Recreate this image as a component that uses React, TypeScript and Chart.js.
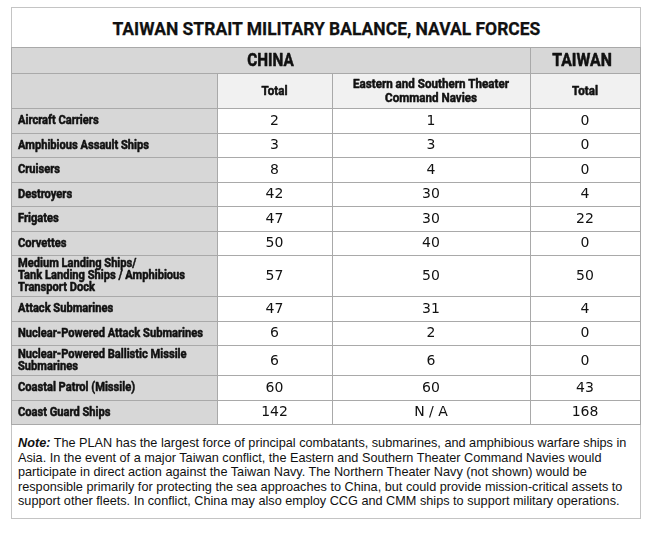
import React, { useEffect, useRef } from 'react';
import { Chart, registerables } from 'chart.js';

Chart.register(...registerables);

const title = 'TAIWAN STRAIT MILITARY BALANCE, NAVAL FORCES';
const groupHeaders = ['CHINA', 'TAIWAN'];
const columnHeaders = ['Total', 'Eastern and Southern Theater\nCommand Navies', 'Total'];
const categories = [
  'Aircraft Carriers',
  'Amphibious Assault Ships',
  'Cruisers',
  'Destroyers',
  'Frigates',
  'Corvettes',
  'Medium Landing Ships/\nTank Landing Ships / Amphibious\nTransport Dock',
  'Attack Submarines',
  'Nuclear-Powered Attack Submarines',
  'Nuclear-Powered Ballistic Missile\nSubmarines',
  'Coastal Patrol (Missile)',
  'Coast Guard Ships',
];
const chinaTotal = [2, 3, 8, 42, 47, 50, 57, 47, 6, 6, 60, 142];
const chinaEastSouth: (number | null)[] = [1, 3, 4, 30, 30, 40, 50, 31, 2, 6, 60, null];
const taiwanTotal = [0, 0, 0, 4, 22, 0, 50, 4, 0, 0, 43, 168];
const notLabel = 'N / A';
const noteLabel = 'Note:';
const noteLines = [
  ' The PLAN has the largest force of principal combatants, submarines, and amphibious warfare ships in',
  'Asia. In the event of a major Taiwan conflict, the Eastern and Southern Theater Command Navies would',
  'participate in direct action against the Taiwan Navy. The Northern Theater Navy (not shown) would be',
  'responsible primarily for protecting the sea approaches to China, but could provide mission-critical assets to',
  'support other fleets. In conflict, China may also employ CCG and CMM ships to support military operations.',
];

// ---- layout (not data) ----
const W = 630;
const colEdges = [0, 206, 321, 519, 629];
const HEAD1 = 26;
const HEAD2 = 35;
const rowHeightByLines: Record<number, number> = { 1: 24.5, 2: 30, 3: 41 };

const GRAY = '#d7d7d7';
const LIGHT = '#f1f1f1';
const LINE = '#a9a9a9';
const TEXT = '#111111';

function rowEdgesCalc() {
  const edges = [0, HEAD1, HEAD1 + HEAD2];
  let y = HEAD1 + HEAD2;
  categories.forEach((c) => {
    y += rowHeightByLines[c.split('\n').length];
    edges.push(y);
  });
  return edges;
}
const rowEdges = rowEdgesCalc();
const H = Math.round(rowEdges[rowEdges.length - 1]) + 1;

function condensedText(
  ctx: CanvasRenderingContext2D,
  text: string,
  x: number,
  y: number,
  align: 'left' | 'center',
  font: string,
  sx: number
) {
  ctx.save();
  ctx.font = font;
  ctx.textBaseline = 'middle';
  ctx.textAlign = align;
  ctx.translate(x, y);
  ctx.scale(sx, 1);
  ctx.lineWidth = 0.55;
  ctx.strokeStyle = TEXT;
  ctx.lineJoin = 'round';
  ctx.fillText(text, 0, 0);
  ctx.strokeText(text, 0, 0);
  ctx.restore();
}

const tablePlugin = {
  id: 'tablePlugin',
  beforeDatasetsDraw(chart: any) {
    const ctx: CanvasRenderingContext2D = chart.ctx;
    const xs = chart.scales.x;
    const ys = chart.scales.y;
    const px = (v: number) => Math.round(xs.getPixelForValue(v));
    const py = (v: number) => Math.round(ys.getPixelForValue(v));
    const x0 = px(colEdges[0]);
    const xEnd = px(colEdges[4]);
    const yEnd = py(rowEdges[rowEdges.length - 1]);

    ctx.save();
    ctx.fillStyle = '#ffffff';
    ctx.fillRect(x0, py(0), xEnd - x0 + 1, yEnd - py(0) + 1);
    ctx.fillStyle = GRAY;
    ctx.fillRect(x0, py(0), xEnd - x0, py(HEAD1) - py(0));
    ctx.fillStyle = GRAY;
    ctx.fillRect(x0, py(HEAD1), px(colEdges[1]) - x0, py(HEAD1 + HEAD2) - py(HEAD1));
    ctx.fillStyle = LIGHT;
    ctx.fillRect(px(colEdges[1]), py(HEAD1), xEnd - px(colEdges[1]), py(HEAD1 + HEAD2) - py(HEAD1));
    ctx.fillStyle = GRAY;
    ctx.fillRect(x0, py(HEAD1 + HEAD2), px(colEdges[1]) - x0, yEnd - py(HEAD1 + HEAD2));

    ctx.strokeStyle = LINE;
    ctx.lineWidth = 1;
    ctx.beginPath();
    rowEdges.forEach((r) => {
      const y = py(r) + 0.5;
      ctx.moveTo(x0, y);
      ctx.lineTo(xEnd + 1, y);
    });
    const vStart = [0, HEAD1, HEAD1, 0, 0];
    colEdges.forEach((c, i) => {
      const x = px(c) + 0.5;
      ctx.moveTo(x, py(vStart[i]));
      ctx.lineTo(x, yEnd + 1);
    });
    ctx.stroke();

    ctx.fillStyle = TEXT;
    const h1y = (py(0) + py(HEAD1)) / 2 + 1;
    condensedText(ctx, groupHeaders[0], (px(colEdges[1]) + px(colEdges[2])) / 2 - 4, h1y, 'center', 'bold 18px Roboto', 0.85);
    condensedText(ctx, groupHeaders[1], (px(colEdges[3]) + px(colEdges[4])) / 2 - 3, h1y, 'center', 'bold 18px Roboto', 0.88);
    const h2y = (py(HEAD1) + py(HEAD1 + HEAD2)) / 2 + 1;
    columnHeaders.forEach((h, i) => {
      const lines = h.split('\n');
      const cx = (px(colEdges[i + 1]) + px(colEdges[i + 2])) / 2;
      lines.forEach((ln, k) => {
        const y = h2y + (k - (lines.length - 1) / 2) * 14;
        condensedText(ctx, ln, cx, y, 'center', 'bold 13.5px Roboto', 0.86);
      });
    });
    categories.forEach((c, r) => {
      const lines = c.split('\n');
      const cy = (py(rowEdges[r + 2]) + py(rowEdges[r + 3])) / 2 + 0.5;
      lines.forEach((ln, k) => {
        const y = cy + (k - (lines.length - 1) / 2) * 11.8;
        condensedText(ctx, ln, px(colEdges[0]) + 7, y, 'left', 'bold 13px Roboto', 0.855);
      });
    });
    ctx.restore();
  },
  afterDatasetsDraw(chart: any) {
    const ctx: CanvasRenderingContext2D = chart.ctx;
    ctx.save();
    ctx.fillStyle = TEXT;
    ctx.font = '14px "DejaVu Sans"';
    ctx.textAlign = 'center';
    ctx.textBaseline = 'middle';
    chart.data.datasets.forEach((ds: any, di: number) => {
      const meta = chart.getDatasetMeta(di);
      meta.data.forEach((el: any, i: number) => {
        const v = ds.data[i].v;
        ctx.fillText(v === null ? notLabel : String(v), el.x, el.y + 1);
      });
    });
    ctx.restore();
  },
};

function columnPoints(values: (number | null)[], col: number) {
  return values.map((v, r) => ({
    x: (colEdges[col] + colEdges[col + 1]) / 2,
    y: (rowEdges[r + 2] + rowEdges[r + 3]) / 2,
    v,
  }));
}

export default function App() {
  const ref = useRef<HTMLCanvasElement | null>(null);

  useEffect(() => {
    document.body.style.margin = '0';
    const canvas = ref.current!;
    const chart = new Chart(canvas, {
      type: 'scatter',
      data: {
        datasets: [
          { label: 'China Total', data: columnPoints(chinaTotal, 1) as any, pointRadius: 0 },
          { label: 'Eastern and Southern Theater Command Navies', data: columnPoints(chinaEastSouth, 2) as any, pointRadius: 0 },
          { label: 'Taiwan Total', data: columnPoints(taiwanTotal, 3) as any, pointRadius: 0 },
        ],
      },
      options: {
        animation: false,
        responsive: false,
        devicePixelRatio: 1,
        layout: { padding: 0 },
        plugins: { legend: { display: false }, tooltip: { enabled: false }, title: { display: false } },
        events: [],
        scales: {
          x: { type: 'linear', display: false, min: 0, max: W },
          y: { type: 'linear', display: false, min: 0, max: H, reverse: true },
        },
      },
      plugins: [tablePlugin],
    });
    return () => chart.destroy();
  }, []);

  return (
    <div style={{ position: 'relative', width: 662, height: 536, background: '#fff', fontFamily: '"Liberation Sans", Arial, sans-serif' }}>
      <div
        style={{
          position: 'absolute',
          left: 11,
          top: 7,
          width: 628,
          height: 510,
          border: '1px solid #c4c4c4',
        }}
      />
      <div
        style={{
          position: 'absolute',
          left: 11,
          top: 8,
          width: 630,
          height: 39,
          display: 'flex',
          alignItems: 'center',
          justifyContent: 'center',
        }}
      >
        <span
          style={{
            display: 'inline-block',
            font: 'bold 18.5px Roboto',
            color: TEXT,
            transform: 'scaleX(0.945)',
            whiteSpace: 'nowrap',
            marginTop: 2,
            WebkitTextStroke: '0.25px #111111',
          }}
        >
          {title}
        </span>
      </div>
      <canvas ref={ref} width={W} height={H} style={{ position: 'absolute', left: 11, top: 47, width: W, height: H, display: 'block' }} />
      <div
        style={{
          position: 'absolute',
          left: 18,
          top: 436,
          font: '12.7px "Liberation Sans", Arial, sans-serif',
          lineHeight: '14.6px',
          color: TEXT,
          whiteSpace: 'nowrap',
        }}
      >
        {noteLines.map((ln, i) => (
          <div key={i}>
            {i === 0 && <b><i>{noteLabel}</i></b>}
            {ln}
          </div>
        ))}
      </div>
    </div>
  );
}
